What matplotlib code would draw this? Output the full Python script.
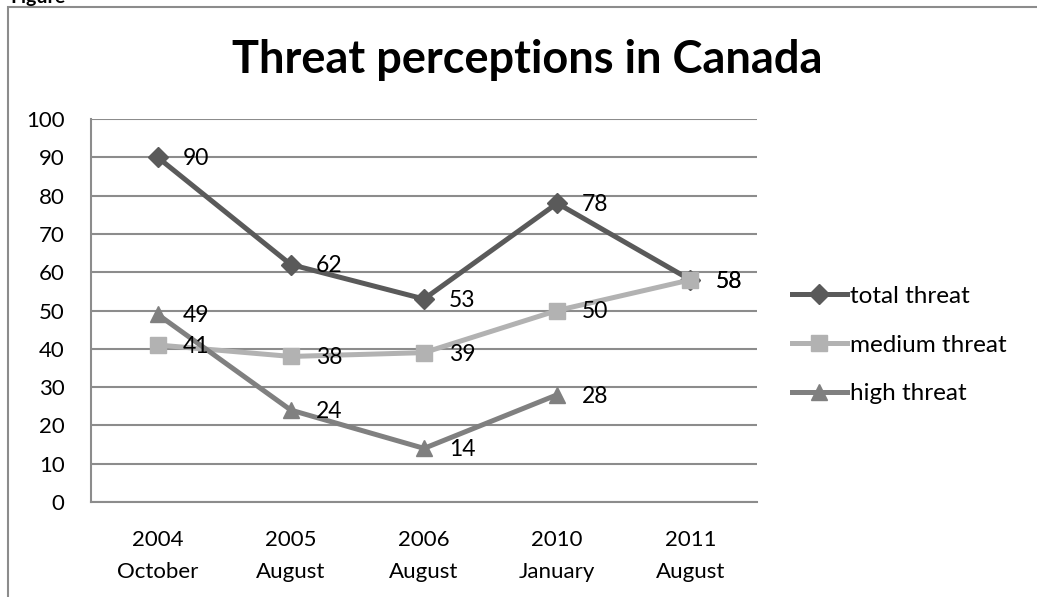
import matplotlib
matplotlib.use("Agg")
import matplotlib.pyplot as plt
from matplotlib.patches import Rectangle

# Survey waves and threat shares (%)
categories = ["2004\nOctober", "2005\nAugust", "2006\nAugust", "2010\nJanuary", "2011\nAugust"]
total_threat = [90, 62, 53, 78, 58]
medium_threat = [41, 38, 39, 50, 58]
high_threat = [49, 24, 14, 28, None]
y_ticks = [0, 10, 20, 30, 40, 50, 60, 70, 80, 90, 100]

plt.rcParams["font.family"] = ["Lato", "DejaVu Sans"]

fig = plt.figure(figsize=(10.37, 5.97), dpi=100)
fig.patch.set_facecolor("white")

# Chart frame
fig.patches.append(Rectangle((8 / 1037, -0.05), 1.2, 1 - 7 / 597 + 0.05,
                             transform=fig.transFigure, fill=False,
                             edgecolor="#8c8c8c", linewidth=1.5))
fig.text(10 / 1037, 1 + 2 / 597, "Figure", fontsize=14, fontweight="bold",
         ha="left", va="center", color="black")

ax = fig.add_axes([91 / 1037, 1 - 502 / 597, (757 - 91) / 1037, (502 - 119) / 597])
x = list(range(len(categories)))

series = [
    ("total threat", total_threat, "#5a5a5a", "D", 10),
    ("medium threat", medium_threat, "#b2b2b2", "s", 11),
    ("high threat", high_threat, "#808080", "^", 12),
]
for z, (name, vals, col, mk, ms) in enumerate(series):
    xs = [xi for xi, v in zip(x, vals) if v is not None]
    ys = [v for v in vals if v is not None]
    ax.plot(xs, ys, color=col, linewidth=3.6, marker=mk, markersize=ms,
            markerfacecolor=col, markeredgecolor=col, label=name, zorder=3 + z,
            solid_joinstyle="round")
    for xi, v in zip(xs, ys):
        ax.annotate(str(v), (xi, v), xytext=(18, -1), textcoords="offset points",
                    ha="left", va="center", fontsize=16.5, color="black", zorder=10)

ax.set_xlim(-0.5, 4.5)
ax.set_ylim(0, 100)
ax.set_yticks(y_ticks)
ax.set_xticks(x)
ax.set_xticklabels(categories, linespacing=1.75)
ax.tick_params(axis="both", length=0, labelsize=16, colors="black")
ax.tick_params(axis="y", pad=19)
ax.tick_params(axis="x", pad=20)
ax.yaxis.grid(True, color="#8c8c8c", linewidth=1.5)
ax.set_axisbelow(True)
for side in ["top", "right"]:
    ax.spines[side].set_visible(False)
for side in ["left", "bottom"]:
    ax.spines[side].set_color("#8c8c8c")
    ax.spines[side].set_linewidth(1.5)

fig.text(527 / 1037, 1 - 60 / 597, "Threat perceptions in Canada",
         fontsize=32.5, fontweight="bold", ha="center", va="center")

leg = ax.legend(loc="center left", bbox_to_anchor=(792 / 1037, 1 - 345 / 597),
                bbox_transform=fig.transFigure, frameon=False, fontsize=17.5,
                borderpad=0, borderaxespad=0, handlelength=2.25,
                handletextpad=0.15, labelspacing=1.15)

fig.savefig("out.png", dpi=100, facecolor="white")
